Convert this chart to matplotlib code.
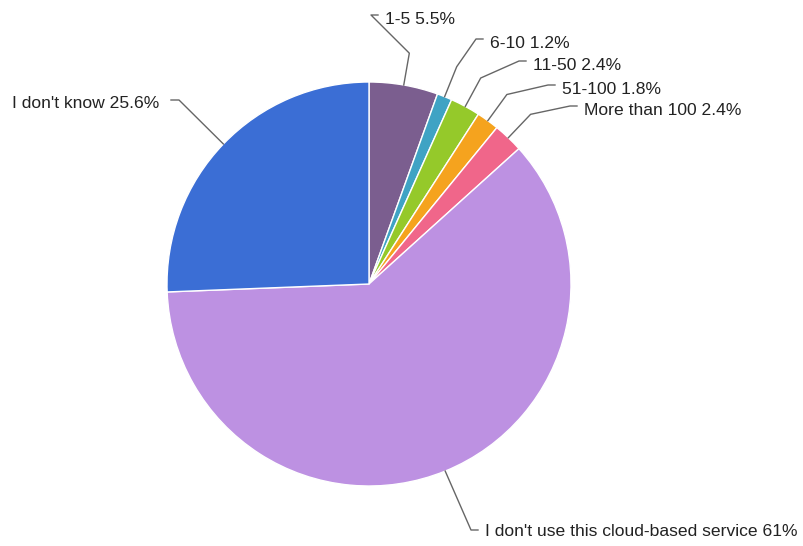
import numpy as np
import matplotlib.pyplot as plt

labels = ['1-5', '6-10', '11-50', '51-100', 'More than 100',
          "I don't use this cloud-based service", "I don't know"]
values = [5.5, 1.2, 2.4, 1.8, 2.4, 61.0, 25.6]
value_text = ['5.5%', '1.2%', '2.4%', '1.8%', '2.4%', '61%', '25.6%']
colors = ['#7b5e8f', '#3fa3c4', '#95c92a', '#f5a31e', '#f0668a', '#bd91e2', '#3b6ed5']

# label text anchor (pixel coords, from top-left) and side
text_pos = [(385, 18, 'left'), (490, 42, 'left'), (533, 64, 'left'),
            (562, 88, 'left'), (584, 109, 'left'), (485, 530, 'left'),
            (159, 102, 'right')]

W, H = 804, 546
cx, cy, r = 369, 284, 202

fig = plt.figure(figsize=(W / 100, H / 100), dpi=100)
ax = fig.add_axes([0, 0, 1, 1])

ax.pie(values, colors=colors, startangle=90, counterclock=False,
       center=(cx, H - cy), radius=r,
       wedgeprops=dict(edgecolor='white', linewidth=1))
ax.set_xlim(0, W)
ax.set_ylim(0, H)
ax.set_aspect('equal')
ax.axis('off')

total = sum(values)
cum = 0
for lab, v, vt, (tx, ty, side) in zip(labels, values, value_text, text_pos):
    mid = (cum + v / 2) / total * 2 * np.pi
    cum += v
    ax_x = cx + r * np.sin(mid)
    ax_y = cy - r * np.cos(mid)
    ex = cx + r * 1.16 * np.sin(mid)
    ey = cy - r * 1.16 * np.cos(mid)
    if side == 'left':
        hx0, hx1 = tx - 14, tx - 7
    else:
        hx0, hx1 = tx + 20, tx + 12
    if lab.startswith("I don't use"):
        pts = [(ax_x, ax_y), (hx0, ty), (hx1, ty)]
    elif lab.startswith("I don't know"):
        pts = [(ax_x, ax_y), (hx0, ty - 2), (hx1, ty - 2)]
    else:
        pts = [(ax_x, ax_y), (ex, ey), (hx0, ty - 3), (hx1, ty - 3)]
    xs = [p[0] for p in pts]
    ys = [H - p[1] for p in pts]
    ax.plot(xs, ys, color='#666666', linewidth=1)
    ax.text(tx, H - ty - 1.5, f'{lab} {vt}', ha=side, va='center',
            fontsize=12.6, family='Liberation Sans', color='#222222')

fig.savefig('out.png', dpi=100)
